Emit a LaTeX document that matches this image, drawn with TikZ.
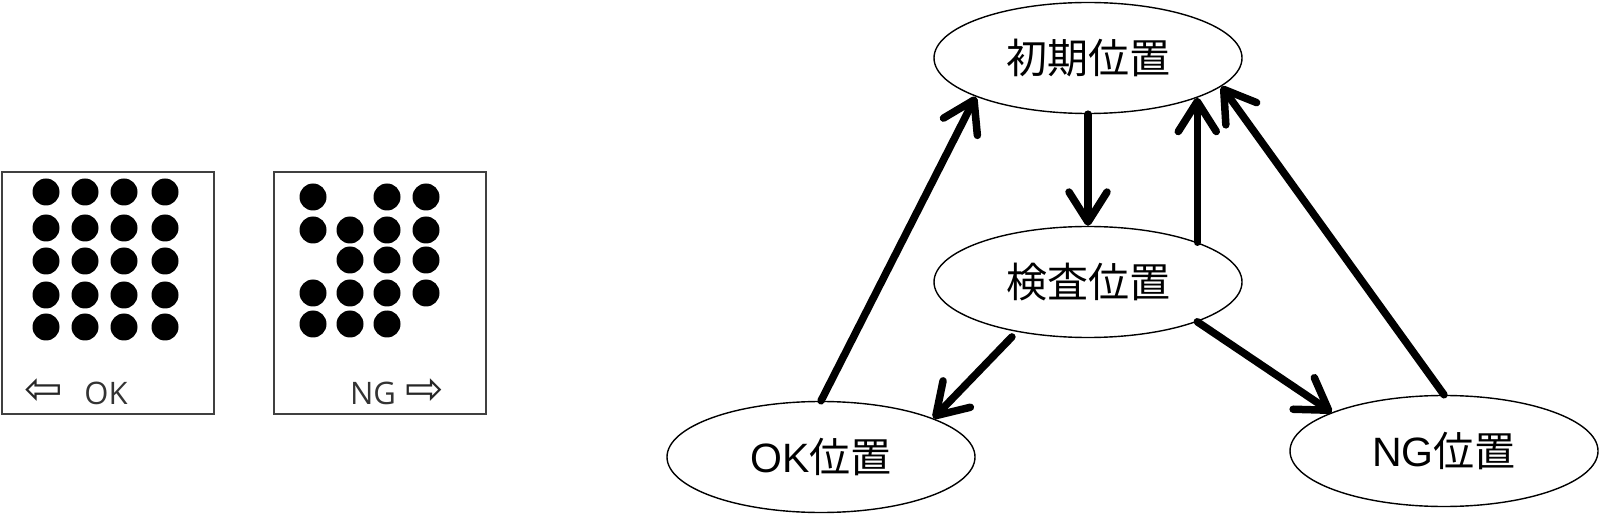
\documentclass[tikz,border=0pt]{standalone}
\usepackage{fontspec}
\setmainfont{Liberation Sans}
\newfontfamily\jp{Noto Sans CJK JP}
\newfontfamily\lbl{Open Sans}
\newfontfamily\sym{DejaVu Sans}
\usetikzlibrary{shapes.geometric,arrows.meta}
\begin{document}
\begin{tikzpicture}[x=1pt,y=-1pt,
  state/.style={ellipse, draw, line width=1.4pt, minimum width=308pt, minimum height=111pt, inner sep=0pt, font=\fontsize{41}{41}\selectfont},
  flow/.style={line width=7.5pt, -{Straight Barb[length=30pt,width=38pt,line width=7.5pt,round]}, line cap=round, line join=round},
  panel/.style={draw=black!75, line width=2pt, minimum width=212pt, minimum height=242pt, inner sep=0pt, anchor=north west},
  dot/.style={circle, fill=black, minimum size=27pt, inner sep=0pt},
  lab/.style={font=\lbl\fontsize{31}{31}\selectfont, text=black!80, inner sep=0pt},
  symb/.style={font=\sym\fontsize{46}{46}\selectfont, text=black!85, inner sep=0pt}
]
\useasboundingbox (0,0) rectangle (1600,518);

% panels
\node[panel] (okpanel) at (1,171) {};
\node[panel] (ngpanel) at (273,171) {};

% OK dots
\foreach \cx [count=\i] in {46,85,124,165}
  \foreach \cy [count=\j] in {192,228,261,295,327}
    \node[dot] (a\i\j) at (\cx,\cy) {};

% NG dots
\foreach \cx/\cy/\nm in {313/197/b11, 387/197/b31, 426/197/b41,
                        313/230/b12, 350/230/b22, 387/230/b32, 426/230/b42,
                        350/260/b23, 387/260/b33, 426/260/b43,
                        313/293/b14, 350/293/b24, 387/293/b34, 426/293/b44,
                        313/324/b15, 350/324/b25, 387/324/b35}
  \node[dot] (\nm) at (\cx,\cy) {};

% panel labels
\node[symb] (okarrow) at (44,392) {⇦};
\node[lab] (oktext) at (106,393) {OK};
\node[lab] (ngtext) at (373,393) {NG};
\node[symb] (ngarrow) at (425,392) {⇨};

% states
\node[state] (init) at (1088,58) {\jp 初期位置};
\node[state] (insp) at (1088,282) {\jp 検査位置};
\node[state] (ok) at (821,457) {OK{\jp 位置}};
\node[state] (ng) at (1444,451) {NG{\jp 位置}};

% transitions
\draw[flow] (init.south) -- (insp.north);
\draw[flow] (insp.20) -- (init.-20);
\draw[flow] (ok.north) -- (init.199);
\draw[flow] (ng.north) -- (init.-12);
\draw[flow, shorten <=7pt] (insp.215) -- (ok.19);
\draw[flow] (insp.-20) -- (ng.161);
\end{tikzpicture}
\end{document}
